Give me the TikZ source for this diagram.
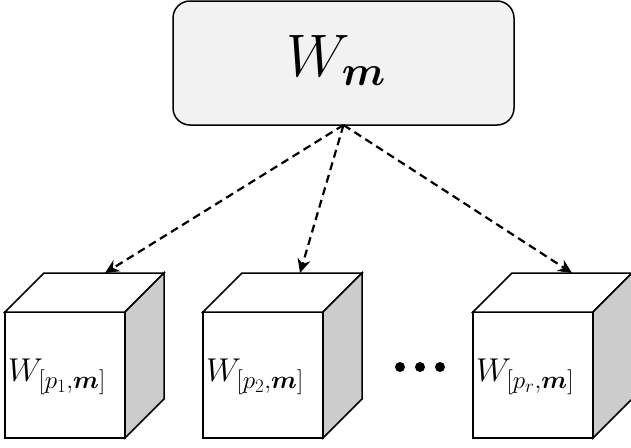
\RequirePackage{fix-cm}
\documentclass[tikz,border=0pt]{standalone}
\usepackage{amsmath,amsbsy}
\DeclareMathSizes{33}{33}{25}{19}
\usetikzlibrary{arrows.meta}
\definecolor{boxfill}{HTML}{F2F2F2}
\definecolor{sidefill}{HTML}{CCCCCC}
\tikzset{
  topbox/.style={draw, line width=1.5pt, rounded corners=17pt, fill=boxfill, minimum width=341pt, minimum height=124pt, outer sep=0pt, inner sep=0pt},
  front/.style={draw, line width=1.5pt, fill=white, minimum width=120pt, minimum height=126pt, outer sep=0pt, inner sep=0pt, anchor=north west},
  face/.style={draw, line width=1.5pt, line join=miter},
  lbl/.style={anchor=west, inner sep=0pt, font=\fontsize{33}{38}\selectfont},
  link/.style={line width=2.2pt, dash pattern=on 8pt off 5pt, -{Stealth[length=14pt,width=13pt]}},
  dot/.style={circle, fill=black, minimum size=10pt, inner sep=0pt}
}
\begin{document}
\begin{tikzpicture}[x=1pt,y=-1pt]
\useasboundingbox (0,0) rectangle (631,447);
\node[topbox] (top) at (343.5,63) {};
\node[font=\fontsize{60}{70}\selectfont, inner sep=0pt] (tl) at (336,60) {$W_{\boldsymbol{m}}$};
\foreach \x/\n/\s in {5/c1/{p_1}, 203/c2/{p_2}, 473/c3/{p_r}} {
  \node[front] (\n) at (\x,312) {};
  \draw[face, fill=white] (\n.north west) -- ++(39,-39) -- ++(120,0) -- (\n.north east) -- cycle;
  \draw[face, fill=sidefill] (\n.north east) -- ++(39,-39) -- ++(0,126) -- (\n.south east) -- cycle;
  \node[lbl] (\n l) at ([xshift=3pt,yshift=-2pt]\n.west) {$W_{[\s,\boldsymbol{m}]}$};
}
\coordinate (a1) at (105,273);
\coordinate (a2) at (300,273);
\coordinate (a3) at (572,273);
\draw[link] (top.south) -- (a1);
\draw[link] (top.south) -- (a2);
\draw[link] (top.south) -- (a3);
\node[dot] (d1) at (400,367) {};
\node[dot] (d2) at (420,367) {};
\node[dot] (d3) at (440,367) {};
\end{tikzpicture}
\end{document}
